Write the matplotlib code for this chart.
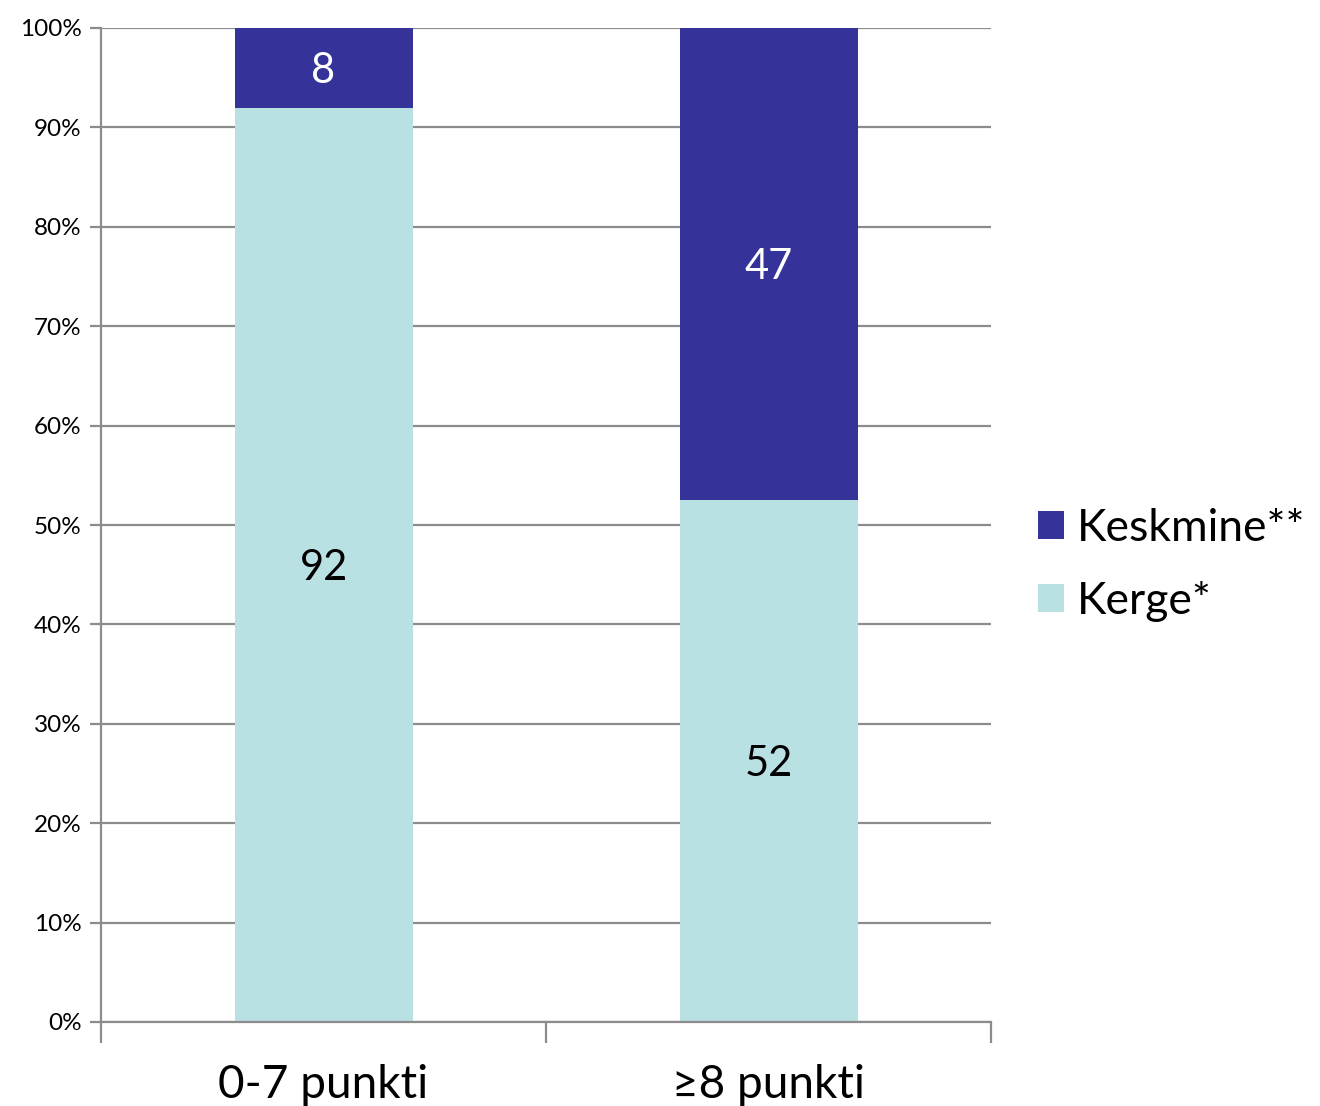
import numpy as np
import matplotlib
matplotlib.use("Agg")
import matplotlib.pyplot as plt
from matplotlib.ticker import PercentFormatter

plt.rcParams['font.family'] = ['Lato', 'DejaVu Sans']

categories = ['0-7 punkti', '≥8 punkti']
kerge = [92, 52]       # Kerge*
keskmine = [8, 47]     # Keskmine**

dark = '#35339a'
light = '#b9e0e3'
grid_col = '#8c8c8c'

# 100% tulp: osakaalud normaliseeritakse summale
tot = np.array(kerge) + np.array(keskmine)
kerge_pct = np.array(kerge) / tot * 100
kesk_pct = np.array(keskmine) / tot * 100

fig = plt.figure(figsize=(13.2, 11.06), dpi=100)
ax = fig.add_axes([101/1320, 1 - 1022/1106, 890/1320, 994/1106])

x = np.arange(len(categories))
b1 = ax.bar(x, kerge_pct, width=0.4, color=light, label='Kerge*', zorder=2)
b2 = ax.bar(x, kesk_pct, width=0.4, bottom=kerge_pct, color=dark, label='Keskmine**', zorder=2)

for i in range(len(x)):
    ax.text(x[i], kerge_pct[i] / 2, str(kerge[i]), ha='center', va='center_baseline',
            fontsize=30, color='black', zorder=3)
    ax.text(x[i], kerge_pct[i] + kesk_pct[i] / 2, str(keskmine[i]), ha='center',
            va='center_baseline', fontsize=30, color='white', zorder=3)

ax.set_xlim(-0.5, 1.5)
ax.set_ylim(0, 100)
ax.set_yticks(np.arange(0, 101, 10))
ax.yaxis.set_major_formatter(PercentFormatter(decimals=0))
ax.yaxis.grid(True, color=grid_col, linewidth=1.6, zorder=0)
ax.set_axisbelow(True)

# kategooriate piirid x-teljel
ax.set_xticks([-0.5, 0.5, 1.5])
ax.set_xticklabels([])
ax.set_xticks(x, minor=True)
ax.set_xticklabels(categories, minor=True, fontsize=33)
ax.tick_params(axis='x', which='major', length=15, width=1.6, color=grid_col)
ax.tick_params(axis='x', which='minor', length=0, pad=30)
ax.tick_params(axis='y', length=8, width=1.6, color=grid_col, labelsize=17.5, pad=6)

for s in ['top', 'right']:
    ax.spines[s].set_visible(False)
for s in ['left', 'bottom']:
    ax.spines[s].set_color(grid_col)
    ax.spines[s].set_linewidth(1.6)

ax.legend(handles=[b2, b1], labels=['Keskmine**', 'Kerge*'], loc='center left',
          bbox_to_anchor=(1038/1320, 1 - 565/1106), bbox_transform=fig.transFigure,
          frameon=False, fontsize=32, handlelength=0.58, handleheight=0.58,
          handletextpad=0.3, labelspacing=0.72, borderaxespad=0, borderpad=0)

fig.savefig('out.png', dpi=100)
